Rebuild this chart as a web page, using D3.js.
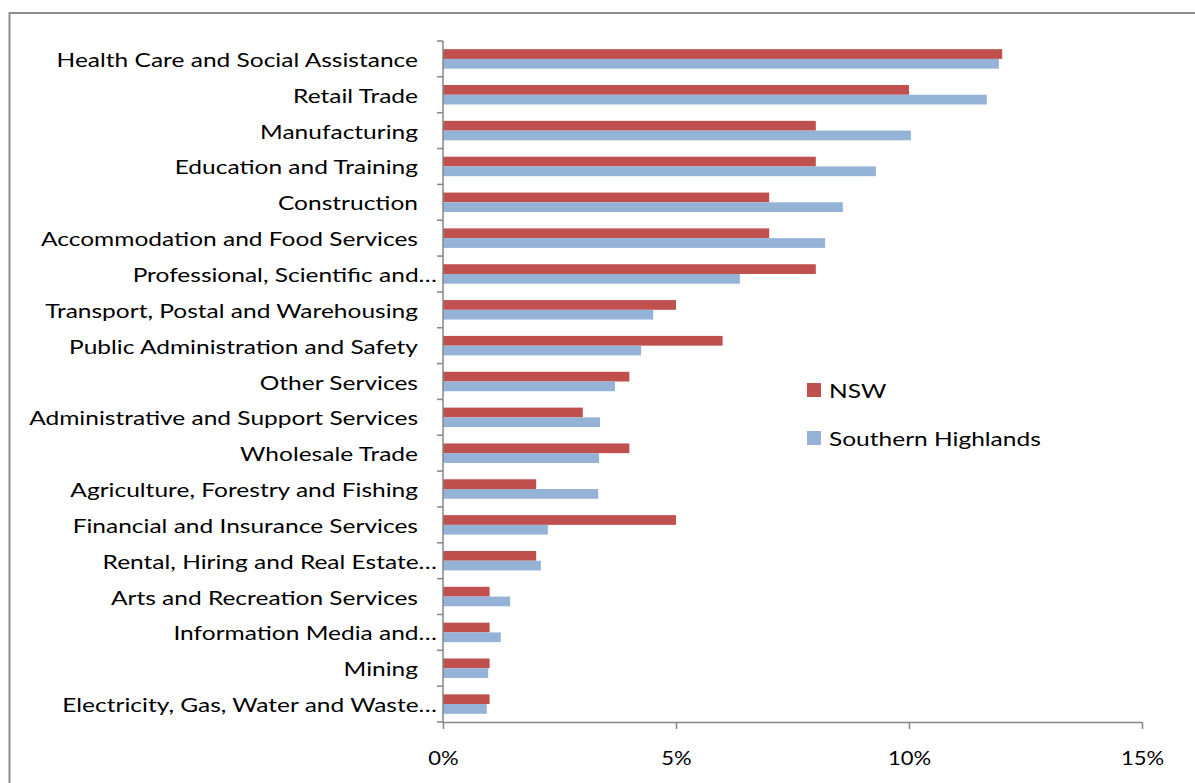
<!DOCTYPE html>
<html>
<head>
<meta charset="utf-8">
<script src="https://cdn.jsdelivr.net/npm/d3@7"></script>
<style>
  html, body { margin: 0; padding: 0; background: #fff; }
  svg { display: block; }
  text { font-family: Lato, "Open Sans", sans-serif; fill: #000; }
</style>
</head>
<body>
<svg id="chart" width="1195" height="783"></svg>
<script>
const categories = [
  "Health Care and Social Assistance",
  "Retail Trade",
  "Manufacturing",
  "Education and Training",
  "Construction",
  "Accommodation and Food Services",
  "Professional, Scientific and…",
  "Transport, Postal and Warehousing",
  "Public Administration and Safety",
  "Other Services",
  "Administrative and Support Services",
  "Wholesale Trade",
  "Agriculture, Forestry and Fishing",
  "Financial and Insurance Services",
  "Rental, Hiring and Real Estate…",
  "Arts and Recreation Services",
  "Information Media and…",
  "Mining",
  "Electricity, Gas, Water and Waste…"
];
const seriesNames = ["NSW", "Southern Highlands"];
const nswValues = [12, 10, 8, 8, 7, 7, 8, 5, 6, 4, 3, 4, 2, 5, 2, 1, 1, 1, 1];
const shValues = [11.93, 11.67, 10.04, 9.29, 8.58, 8.2, 6.37, 4.51, 4.25, 3.69, 3.37, 3.35, 3.33, 2.25, 2.1, 1.44, 1.24, 0.97, 0.94];
const xTicks = [0, 5, 10, 15];
const colors = ["#C0504D", "#95B3D7"];

const svg = d3.select("#chart");

function stretch(sel, f) {
  sel.each(function () {
    const l = this.getComputedTextLength();
    d3.select(this).attr("textLength", l * f).attr("lengthAdjust", "spacingAndGlyphs");
  });
}

// outer border
svg.append("rect")
  .attr("x", 9.5).attr("y", 13).attr("width", 1200).attr("height", 800)
  .attr("fill", "none").attr("stroke", "#8c8c8c").attr("stroke-width", 2);

const x = d3.scaleLinear().domain([0, 15]).range([443, 1142]);
const y = d3.scaleBand().domain(categories).range([41, 722]).padding(0);
const ySub = d3.scaleBand().domain(seriesNames).range([0, y.bandwidth()])
  .paddingInner(0).paddingOuter(0.84);

const data = categories.map((c, i) => ({ cat: c, vals: [nswValues[i], shValues[i]] }));

const groups = svg.append("g").selectAll("g").data(data).join("g")
  .attr("transform", d => `translate(0,${y(d.cat)})`);

groups.selectAll("rect").data(d => d.vals.map((v, j) => ({ v, s: seriesNames[j], j })))
  .join("rect")
  .attr("x", x(0))
  .attr("y", d => ySub(d.s))
  .attr("width", d => x(d.v) - x(0))
  .attr("height", ySub.bandwidth())
  .attr("fill", d => colors[d.j]);

// y axis line and boundary ticks
const axisColor = "#868686";
const yAxisG = svg.append("g");
yAxisG.append("line")
  .attr("x1", x(0)).attr("x2", x(0)).attr("y1", y.range()[0]).attr("y2", y.range()[1])
  .attr("stroke", axisColor).attr("stroke-width", 1.5);
const boundaries = categories.map(c => y(c)).concat([y.range()[1]]);
yAxisG.selectAll("line.tk").data(boundaries).join("line").attr("class", "tk")
  .attr("x1", x(0) - 6).attr("x2", x(0)).attr("y1", d => d).attr("y2", d => d)
  .attr("stroke", axisColor).attr("stroke-width", 1.5);

// category labels
const labels = svg.append("g").selectAll("text").data(categories).join("text")
  .attr("x", d => d.endsWith("…") ? x(0) - 6 : x(0) - 25)
  .attr("y", d => y(d) + y.bandwidth() / 2 + 1)
  .attr("dy", "0.35em")
  .attr("text-anchor", "end")
  .style("font-size", "20px")
  .text(d => d);
stretch(labels, 1.225);

// x axis
const xAxis = d3.axisBottom(x).tickValues(xTicks).tickFormat(d => d + "%")
  .tickSize(7).tickSizeOuter(0).tickPadding(22);
const xg = svg.append("g").attr("transform", `translate(0,${y.range()[1]})`).call(xAxis);
xg.select(".domain").attr("stroke", axisColor).attr("stroke-width", 1.5);
xg.selectAll(".tick line").attr("stroke", axisColor).attr("stroke-width", 1.5);
const tickTexts = xg.selectAll(".tick text").style("font-size", "20px").style("font-family", "Lato, sans-serif").attr("fill", "#000");
stretch(tickTexts, 1.1);

// legend
const legend = svg.append("g").attr("transform", "translate(807,383)");
const li = legend.selectAll("g").data(seriesNames).join("g")
  .attr("transform", (d, i) => `translate(0,${i * 48})`);
li.append("rect").attr("width", 14).attr("height", 14).attr("fill", (d, i) => colors[i]);
const legTexts = li.append("text").attr("x", 22).attr("y", 8).attr("dy", "0.35em")
  .style("font-size", "20px").text(d => d);
stretch(legTexts, 1.225);
</script>
</body>
</html>
